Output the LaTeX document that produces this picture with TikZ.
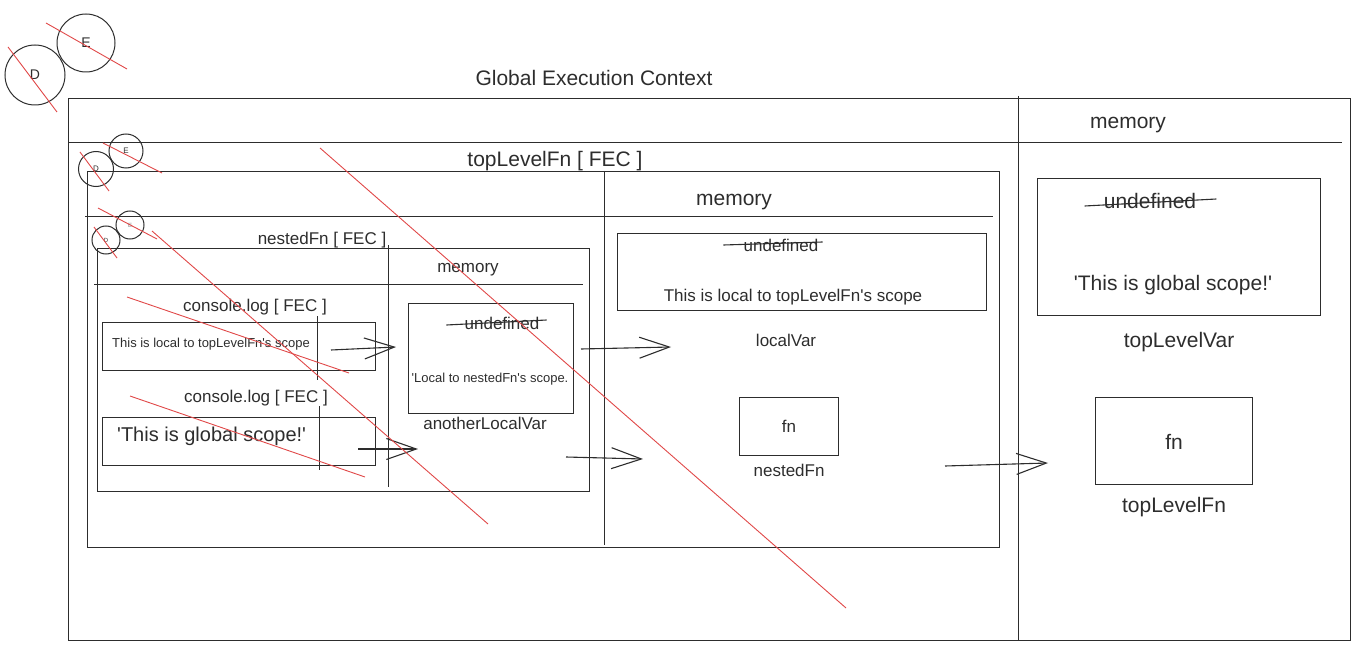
\documentclass[tikz,border=0pt]{standalone}
\usepackage{fontspec}
\setmainfont{Liberation Sans}
\usetikzlibrary{arrows.meta, positioning}
\definecolor{ink}{RGB}{45,45,45}
\definecolor{crossred}{RGB}{224,72,72}

\begin{document}
\begin{tikzpicture}[
    x=1pt, y=-1pt,
    node distance=10pt,
    frame/.style={rectangle, draw=ink, line width=1.1pt, inner sep=0pt, anchor=north west},
    rule/.style={draw=ink, line width=1pt},
    big/.style={inner sep=0pt, text=ink, text height=16.5pt, text depth=0.5pt, font=\fontsize{21}{25}\selectfont},
    mid/.style={big, text height=13.5pt, text depth=1.5pt, font=\fontsize{17}{20}\selectfont},
    small/.style={big, text height=10.5pt, text depth=0.5pt, font=\fontsize{13}{15}\selectfont},
    strike/.style={draw=ink, line width=1.1pt},
    cross/.style={draw=crossred, line width=0.9pt},
    ring/.style={circle, draw=ink, line width=1pt, inner sep=0pt, text=ink},
    arrow/.style={-{Straight Barb[length=30pt, width=21pt]}, draw=ink, line width=1.1pt}
]
\useasboundingbox (0,0) rectangle (1370,663);

% global execution context
\node[frame, minimum width=1282pt, minimum height=542pt] (gec) at (68,98) {};
\node[big] (gecTitle) at (594,78) {Global Execution Context};
\draw[rule] (1018,96) -- (1018,640);
\draw[rule] (68,143) -- (1342,143);
\node[big] (gecMem) at (1128,121) {memory};

\node[frame, minimum width=283pt, minimum height=137pt] (gVarBox) at (1037,178) {};
\node[big] (gUndef) at (1150,200) {undefined};
\draw[strike] ([shift={(-19,6)}]gUndef.west) -- ([shift={(20,-1)}]gUndef.east);
\node[big] (gVarVal) at (1173,282) {\textquotesingle{}This is global scope!\textquotesingle{}};
\node[big, below=15pt of gVarBox] (gVarName) {topLevelVar};

\node[frame, minimum width=157pt, minimum height=87pt] (gFnBox) at (1095,397) {};
\node[big] (gFnVal) at (gFnBox.center) {fn};
\node[big, below=11pt of gFnBox] (gFnName) {topLevelFn};

% topLevelFn
\node[frame, minimum width=912pt, minimum height=376pt] (tfec) at (87,171) {};
\node[big] (tfecTitle) at (555,159) {topLevelFn [ FEC ]};
\draw[rule] (604,171) -- (604,545);
\draw[rule] (85,216) -- (993,216);
\node[big] (tfecMem) at (734,197) {memory};

\node[frame, minimum width=369pt, minimum height=77pt] (tVarBox) at (617,233) {};
\node[mid] (tUndef) at (781,245) {undefined};
\draw[strike] ([shift={(-20,0)}]tUndef.west) -- ([shift={(4,-3)}]tUndef.east);
\node[mid] (tVarVal) at (793,295) {This is local to topLevelFn\textquotesingle{}s scope};
\node[mid, below=22pt of tVarBox, xshift=-16pt] (tVarName) {localVar};

\node[frame, minimum width=99pt, minimum height=58pt] (tFnBox) at (739,397) {};
\node[mid] (tFnVal) at (tFnBox.center) {fn};
\node[mid, below=7pt of tFnBox] (tFnName) {nestedFn};

% nestedFn
\node[frame, minimum width=492pt, minimum height=243pt] (nfec) at (97,248) {};
\node[mid] (nfecTitle) at (322,238) {nestedFn [ FEC ]};
\draw[rule] (388,245) -- (388,487);
\draw[rule] (94,284) -- (583,284);
\node[mid] (nfecMem) at (468,266) {memory};

\node[frame, minimum width=165pt, minimum height=110pt] (nVarBox) at (408,303) {};
\node[mid] (nUndef) at (502,323) {undefined};
\draw[strike] ([shift={(-18,2)}]nUndef.west) -- ([shift={(7,-3)}]nUndef.east);
\node[small] (nVarVal) at (490,377) {\textquotesingle{}Local to nestedFn\textquotesingle{}s scope.};
\node[mid, below=2pt of nVarBox, xshift=-6pt] (nVarName) {anotherLocalVar};

% console.log calls
\node[mid] (logATitle) at (255,305) {console.log [ FEC ]};
\node[frame, minimum width=273pt, minimum height=48pt] (logA) at (102,322) {};
\node[small, anchor=west] (logAVal) at (112,342) {This is local to topLevelFn\textquotesingle{}s scope};
\draw[rule] (317,316) -- (317,380);

\node[mid] (logBTitle) at (256,396) {console.log [ FEC ]};
\node[frame, minimum width=273pt, minimum height=48pt] (logB) at (102,417) {};
\node[big, anchor=west, font=\fontsize{20}{24}\selectfont] (logBVal) at (117,433) {\textquotesingle{}This is global scope!\textquotesingle{}};
\draw[rule] (319,406) -- (319,470);

% arrows
\coordinate (a1s) at (331,350);
\coordinate (a1e) at (396,347);
\coordinate (a2s) at (358,449);
\coordinate (a2e) at (418,449);
\coordinate (a3s) at (581,349);
\coordinate (a3e) at (671,347);
\coordinate (a4s) at (566,457);
\coordinate (a4e) at (643,459);
\coordinate (a5s) at (945,466);
\coordinate (a5e) at (1048,463);
\draw[arrow] (a1s) -- (a1e);
\draw[arrow] (a2s) -- (a2e);
\draw[arrow] (a3s) -- (a3e);
\draw[arrow] (a4s) -- (a4e);
\draw[arrow] (a5s) -- (a5e);

% D / E circles
\node[ring, minimum size=60pt, font=\fontsize{14}{16}\selectfont] (dBig) at (35,75) {D};
\node[ring, minimum size=58pt, font=\fontsize{14}{16}\selectfont] (eBig) at (86,43) {E};
\node[ring, minimum size=35pt, font=\fontsize{8}{9}\selectfont] (dSmall) at (96,169) {D};
\node[ring, minimum size=34pt, font=\fontsize{8}{9}\selectfont] (eSmall) at (126,151) {E};
\node[ring, minimum size=28pt, font=\fontsize{6}{7}\selectfont] (dTiny) at (106,240) {D};
\node[ring, minimum size=28pt, font=\fontsize{6}{7}\selectfont, text=gray] (eTiny) at (130,225) {E};

% red strokes
\draw[cross] (46,23) -- (127,69);
\draw[cross] (8,47) -- (57,112);
\draw[cross] (103,143) -- (162,173);
\draw[cross] (80,152) -- (109,191);
\draw[cross] (98,208) -- (157,239);
\draw[cross] (94,227) -- (117,258);
\draw[cross] (320,148) -- (846,608);
\draw[cross] (152,231) -- (488,524);
\draw[cross] (127,297) -- (349,373);
\draw[cross] (130,396) -- (365,477);

\end{tikzpicture}
\end{document}
